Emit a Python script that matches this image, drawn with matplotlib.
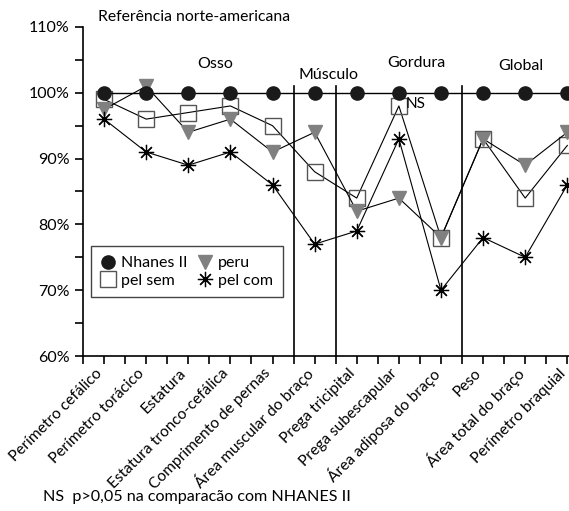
import matplotlib
matplotlib.use("Agg")
import matplotlib.pyplot as plt
import matplotlib.transforms as mtransforms
from matplotlib.lines import Line2D
from matplotlib.ticker import MultipleLocator, FuncFormatter

categories = [
    "Perímetro cefálico", "Perímetro torácico", "Estatura",
    "Estatura tronco-cefálica", "Comprimento de pernas",
    "Área muscular do braço", "Prega tricipital", "Prega subescapular",
    "Área adiposa do braço", "Peso", "Área total do braço",
    "Perímetro braquial",
]
nhanes = [100] * 12
pel_sem = [99, 96, 97, 98, 95, 88, 84, 98, 78, 93, 84, 92]
peru = [97.5, 101, 94, 96, 91, 94, 82, 84, 78, 93, 89, 94]
pel_com = [96, 91, 89, 91, 86, 77, 79, 93, 70, 78, 75, 86]

groups = [("Osso", 2.64, 104.3), ("Músculo", 5.32, 102.7),
          ("Gordura", 7.41, 104.6), ("Global", 9.9, 104.0)]
dividers = [4.5, 5.5, 8.5]

plt.rcParams["font.family"] = ["Lato", "DejaVu Sans"]

fig = plt.figure(figsize=(5.69, 5.11), dpi=100)
ax = fig.add_axes([0.1459, 0.3033, 1 - 0.1459, 0.6439])

x = list(range(len(categories)))
ax.plot(x, pel_sem, color="black", lw=0.8, marker="s", ms=11,
        mfc="none", mec="#555555", mew=1.0, clip_on=False, zorder=3)
ax.plot(x, peru, color="black", lw=0.8, marker="v", ms=10,
        mfc="#808080", mec="#808080", clip_on=False, zorder=4)
ax.plot(x, pel_com, color="black", lw=0.8, marker=(8, 2, 0), ms=11,
        mec="black", mew=0.9, clip_on=False, zorder=5)
ax.plot(x, nhanes, color="black", lw=1.0, marker="o", ms=9.5,
        mfc="#1a1a1a", mec="#1a1a1a", clip_on=False, zorder=6)

for d in dividers:
    ax.plot([d, d], [60, 101], color="black", lw=1.2, zorder=2)

ax.set_xlim(-0.5, 11.04)
ax.set_ylim(60, 110)
ax.spines["top"].set_visible(False)
ax.spines["right"].set_visible(False)
ax.spines["left"].set_linewidth(1.2)
ax.spines["bottom"].set_linewidth(1.2)

ax.yaxis.set_major_locator(MultipleLocator(10))
ax.yaxis.set_minor_locator(MultipleLocator(5))
ax.yaxis.set_major_formatter(FuncFormatter(lambda v, p: "%d%%" % v))
ax.tick_params(axis="y", which="both", length=6, width=1.2, labelsize=11.5)

ax.set_xticks(x)
ax.set_xticklabels(categories, rotation=45, ha="right", va="center",
                   rotation_mode="anchor", fontsize=11.2)
ax.set_xticks([i - 0.5 for i in range(12)], minor=True)
ax.tick_params(axis="x", which="both", length=6, width=1.2, pad=5)
shift = mtransforms.ScaledTranslation(-4 / 100, 0, fig.dpi_scale_trans)
for lbl in ax.get_xticklabels():
    lbl.set_transform(lbl.get_transform() + shift)

for name, gx, gy in groups:
    ax.text(gx, gy, name, ha="center", va="center", fontsize=11.5)
ax.text(7.15, 98.3, "NS", ha="left", va="center", fontsize=11)

fig.text(0.172, 0.967, "Referência norte-americana", ha="left",
         va="center", fontsize=11.3)
fig.text(0.075, 0.027, "NS  p>0,05 na comparacão com NHANES II",
         ha="left", va="center", fontsize=11.6)

handles = [
    Line2D([], [], ls="none", marker="o", ms=9.5, mfc="#1a1a1a", mec="#1a1a1a"),
    Line2D([], [], ls="none", marker="s", ms=11, mfc="none", mec="#555555"),
    Line2D([], [], ls="none", marker="v", ms=10, mfc="#808080", mec="#808080"),
    Line2D([], [], ls="none", marker=(8, 2, 0), ms=11, mec="black", mew=0.9),
]
leg = ax.legend(handles, ["Nhanes II", "pel sem", "peru", "pel com"],
                ncol=2, loc="lower left", bbox_to_anchor=(0.016, 0.179),
                borderaxespad=0, fontsize=11.5, handlelength=1.0,
                handletextpad=0.3, columnspacing=0.6, labelspacing=0.2,
                fancybox=False, framealpha=1, edgecolor="#444444",
                borderpad=0.6)
leg.get_frame().set_linewidth(1.0)

fig.savefig("out.png", dpi=100)
